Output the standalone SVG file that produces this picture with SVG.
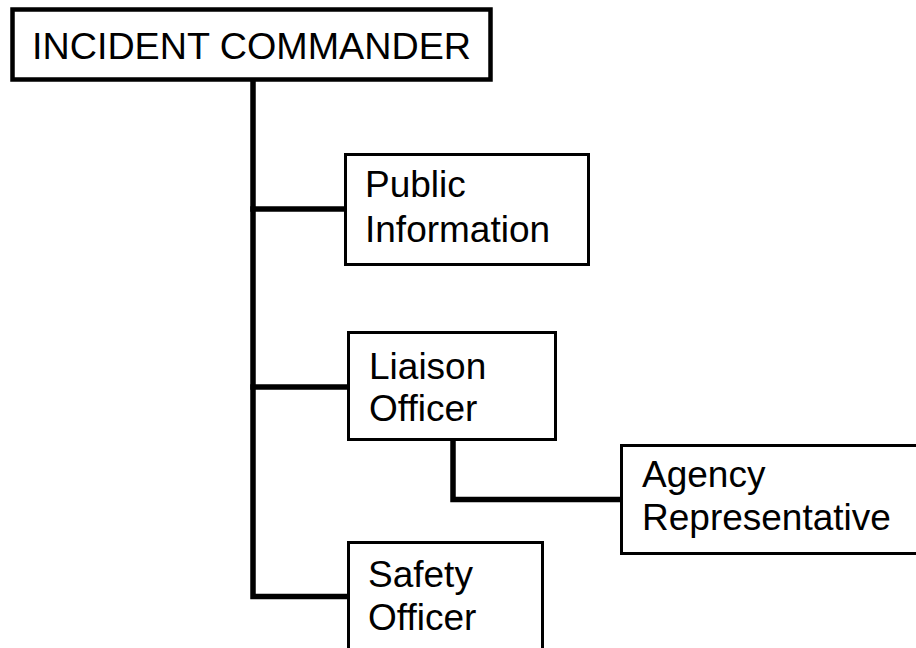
<svg xmlns="http://www.w3.org/2000/svg" width="916" height="648" viewBox="0 0 916 648">
<style>
.box{fill:#fff;stroke:#000;stroke-width:3}
.ic{fill:#fff;stroke:#000;stroke-width:4.5}
.t{font-family:"Liberation Sans",Arial,sans-serif;font-size:37px;fill:#000}
.conn{fill:none;stroke:#000;stroke-width:5.5;stroke-linecap:square;stroke-linejoin:miter}
</style>
<rect width="916" height="648" fill="#fff"/>
<g id="connectors">
<path class="conn" d="M253,82 V596.5 H347"/>
<path class="conn" d="M253,209 H344"/>
<path class="conn" d="M253,387 H347"/>
<path class="conn" d="M453,441 V499.5 H620"/>
</g>
<g id="incident-commander">
<rect class="ic" x="12.5" y="9.5" width="478" height="70"/>
<text class="t" x="32" y="58.5" style="font-size:37.7px">INCIDENT COMMANDER</text>
</g>
<g id="public-information">
<rect class="box" x="345.5" y="154.5" width="243" height="110"/>
<text class="t" x="365" y="197">Public</text>
<text class="t" x="365" y="241.5">Information</text>
</g>
<g id="liaison-officer">
<rect class="box" x="348.5" y="332.5" width="207" height="107"/>
<text class="t" x="369" y="378.5">Liaison</text>
<text class="t" x="369" y="421">Officer</text>
</g>
<g id="agency-representative">
<rect class="box" x="621.5" y="445.5" width="300" height="108"/>
<text class="t" x="642" y="486.5">Agency</text>
<text class="t" x="642" y="530">Representative</text>
</g>
<g id="safety-officer">
<rect class="box" x="348.5" y="542.5" width="194" height="115"/>
<text class="t" x="368" y="586.5">Safety</text>
<text class="t" x="368" y="630">Officer</text>
</g>
</svg>
